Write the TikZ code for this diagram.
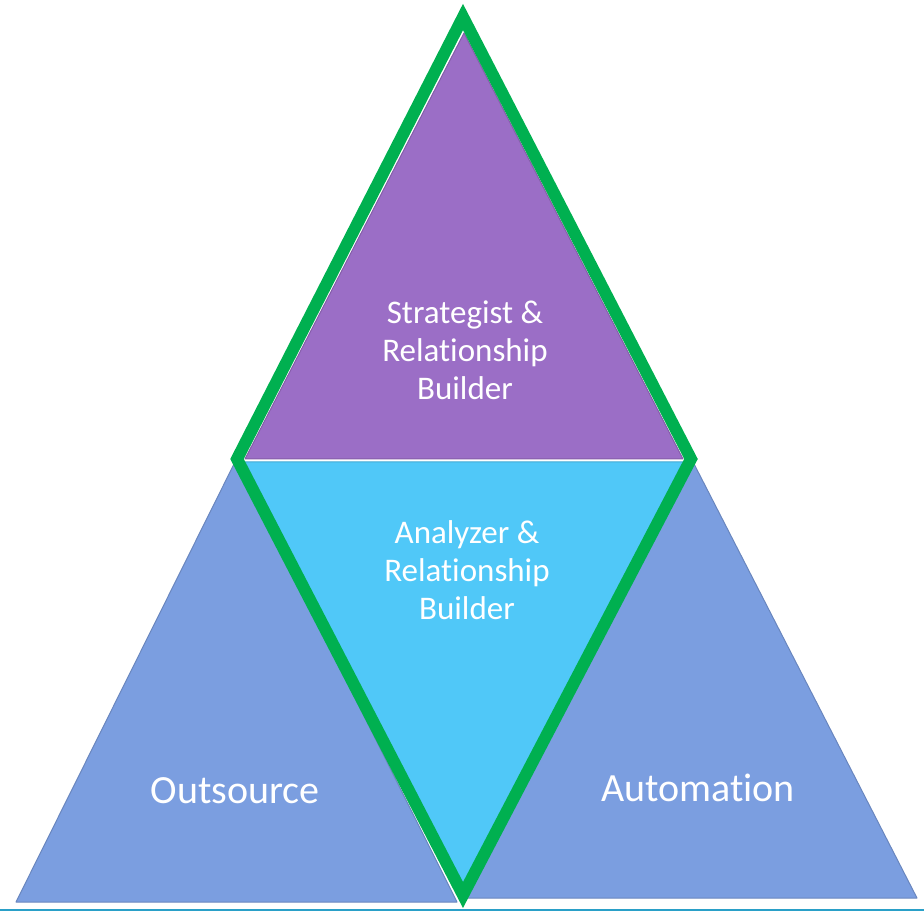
\documentclass[tikz,border=0pt]{standalone}
\usepackage{fontspec}
\setmainfont{Carlito}[Ligatures={NoCommon,NoRare,NoContextual}]
\definecolor{topviolet}{RGB}{155,110,198}
\definecolor{midcyan}{RGB}{80,200,248}
\definecolor{sideblue}{RGB}{123,158,224}
\definecolor{rimgreen}{RGB}{0,176,80}
\definecolor{baseteal}{RGB}{42,160,200}
\tikzset{
  facet/.style={draw=#1!85!black, line width=1pt, fill=#1, line join=round},
  label/.style={text=white, align=center, font=\fontsize{33}{38}\selectfont},
  biglabel/.style={text=white, font=\fontsize{40}{46}\selectfont}
}
\begin{document}
\begin{tikzpicture}[x=1pt,y=1pt]
\useasboundingbox (0,0) rectangle (924,911);
% side triangles
\draw[facet=sideblue] (236,451) -- (16,9) -- (457,9) -- cycle;
\draw[facet=sideblue] (692,451) -- (467,13) -- (917,13) -- cycle;
% centre pair
\draw[facet=midcyan] (245,449) -- (683,449) -- (463,22) -- cycle;
\draw[facet=topviolet] (464,878) -- (245,452) -- (683,452) -- cycle;
% green rim
\draw[rimgreen, line width=12pt, line join=miter] (463,894) -- (237,452) -- (463,16) -- (691,452) -- cycle;
% base line
\draw[baseteal, line width=2pt] (0,1.5) -- (924,1.5);
\node[label] (strat) at (465,561) {Strategist \&\\Relationship\\Builder};
\node[label] (anal) at (467,341) {Analyzer \&\\Relationship\\Builder};
\node[biglabel] (outs) at (235,120) {Outsource};
\node[biglabel] (auto) at (698,123) {Automation};
\end{tikzpicture}
\end{document}
